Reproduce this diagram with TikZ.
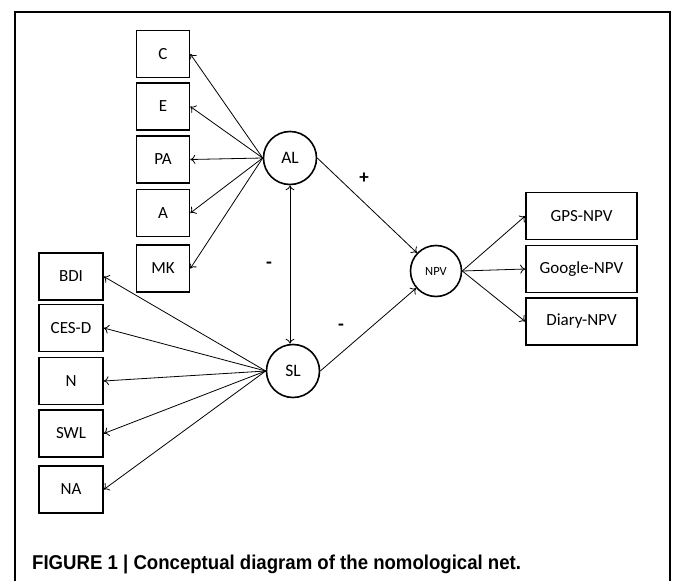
\documentclass[tikz,border=0pt]{standalone}
\usepackage{fontspec}
\setmainfont{Carlito}
\newfontfamily\capfont[FakeStretch=0.93]{Liberation Sans}
\usetikzlibrary{arrows.meta, positioning}

\begin{document}
\begin{tikzpicture}[x=1pt, y=-1pt,
    ind/.style={draw, line width=1.6pt, minimum width=53pt, minimum height=47pt, inner sep=0pt, font=\fontsize{17}{20}\selectfont},
    lat/.style={draw, circle, line width=1.6pt, minimum size=53pt, inner sep=0pt, font=\fontsize{17.5}{20}\selectfont},
    path/.style={-{To[length=5pt,width=9pt]}, line width=0.8pt},
    sign/.style={font=\fontsize{19}{20}\selectfont\bfseries}]
  \useasboundingbox (0,0) rectangle (673,581);
  \draw[line width=2pt] (15,581) -- (15,12) -- (670,12) -- (670,581);

  % latent variables
  \node[lat] (AL) at (290,158) {AL};
  \node[lat] (SL) at (293,371) {SL};
  \node[lat, minimum size=51pt, font=\fontsize{12.5}{14}\selectfont] (NPV) at (436,271) {NPV};

  % indicators
  \foreach \n/\t/\y in {c/C/54, e/E/106.5, pa/PA/159.5, a/A/213, mk/MK/268.5} {
    \node[ind] (\n) at (163,\y) {\t};
    \draw[path] (AL.west) -- (\n.east);
  }
  \foreach \n/\t/\y in {bdi/BDI/276.5, cesd/CES-D/328, n/N/381, swl/SWL/433.5, na/NA/489.5} {
    \node[ind, minimum width=64pt] (\n) at (71,\y) {\t};
    \draw[path] (SL.west) -- (\n.east);
  }
  \foreach \n/\t/\y in {gps/GPS-NPV/216, google/Google-NPV/269, diary/Diary-NPV/321.5} {
    \node[ind, minimum width=111pt] (\n) at (581.5,\y) {\t};
    \draw[path] (NPV.east) -- (\n.west);
  }

  \draw[path, {To[length=5pt,width=9pt]}-{To[length=5pt,width=9pt]}] (AL.south) -- (AL.south |- SL.north);
  \draw[path] (AL.east) -- (NPV);
  \draw[path] (SL.east) -- (NPV);

  \node[sign] (plus) at (364,178) {+};
  \node[sign] (minusa) at (269,265) {-};
  \node[sign] (minusb) at (341,327) {-};

  \node[anchor=base west, inner sep=0pt, font={\capfont\bfseries\fontsize{20}{22}\selectfont}] (cap) at (32,569) {FIGURE 1 | Conceptual diagram of the nomological net.};
\end{tikzpicture}
\end{document}
